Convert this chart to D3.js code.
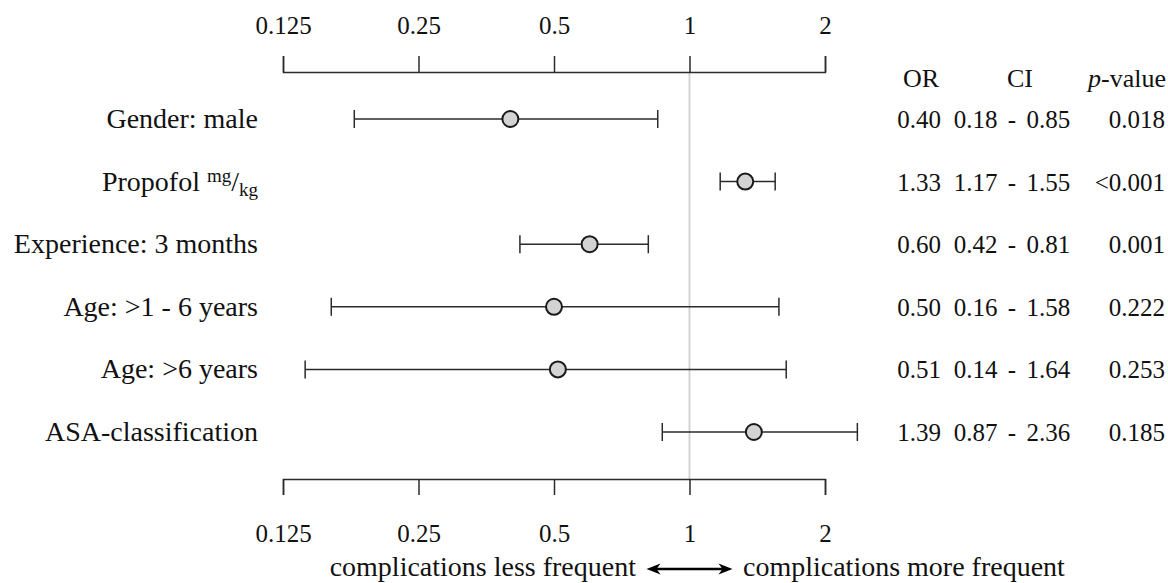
<!DOCTYPE html>
<html>
<head>
<meta charset="utf-8">
<script src="https://cdn.jsdelivr.net/npm/d3@7"></script>
<style>
  html, body { margin: 0; padding: 0; background: #fff; }
  svg { display: block; font-family: "Liberation Serif", "Times New Roman", serif; }
</style>
</head>
<body>
<svg id="chart" width="1168" height="583"></svg>
<script>
// ---- data ----
const labels = ["Gender: male", "Propofol", "Experience: 3 months", "Age: >1 - 6 years", "Age: >6 years", "ASA-classification"];
const labelUnits = ["", "mg/kg", "", "", "", ""];
const oddsRatio = [0.40, 1.33, 0.60, 0.50, 0.51, 1.39];
const ciLow = [0.18, 1.17, 0.42, 0.16, 0.14, 0.87];
const ciHigh = [0.85, 1.55, 0.81, 1.58, 1.64, 2.36];
const pValues = ["0.018", "<0.001", "0.001", "0.222", "0.253", "0.185"];
const tickValues = [0.125, 0.25, 0.5, 1, 2];
const headers = ["OR", "CI", "p-value"];
const leftNote = "complications less frequent";
const rightNote = "complications more frequent";

// ---- layout ----
const svg = d3.select("#chart");
const x = d3.scaleLog().base(2).domain([0.125, 2]).range([283, 825]);
const y = d3.scalePoint().domain(d3.range(labels.length)).range([119, 432]);
const axisTopY = 72, axisBottomY = 479;
const ink = "#2b2b2b";

// reference line at 1
svg.append("line")
  .attr("x1", x(1)).attr("x2", x(1))
  .attr("y1", axisTopY).attr("y2", axisBottomY)
  .attr("stroke", "#d4d4d4").attr("stroke-width", 2);

// axes
function styleAxis(g) {
  g.selectAll("path, line").attr("stroke", ink).attr("stroke-width", 1.5);
  g.selectAll("text").attr("fill", "#111").attr("font-size", 25)
    .attr("font-family", "Liberation Serif, serif");
}
const fmt = d => String(d);
svg.append("g").attr("transform", `translate(0,${axisTopY})`)
  .call(d3.axisTop(x).tickValues(tickValues).tickFormat(fmt).tickSize(16).tickPadding(22))
  .call(styleAxis);
svg.append("g").attr("transform", `translate(0,${axisBottomY})`)
  .call(d3.axisBottom(x).tickValues(tickValues).tickFormat(fmt).tickSize(16).tickPadding(29))
  .call(styleAxis);
svg.selectAll(".domain").attr("stroke", ink);

// rows
const rows = svg.append("g").selectAll("g").data(labels.map((l, i) => i)).join("g");
const capH = 9;
rows.append("line")
  .attr("x1", i => x(ciLow[i])).attr("x2", i => x(ciHigh[i]))
  .attr("y1", i => y(i)).attr("y2", i => y(i))
  .attr("stroke", ink).attr("stroke-width", 1.5);
rows.append("line")
  .attr("x1", i => x(ciLow[i])).attr("x2", i => x(ciLow[i]))
  .attr("y1", i => y(i) - capH).attr("y2", i => y(i) + capH)
  .attr("stroke", ink).attr("stroke-width", 1.5);
rows.append("line")
  .attr("x1", i => x(ciHigh[i])).attr("x2", i => x(ciHigh[i]))
  .attr("y1", i => y(i) - capH).attr("y2", i => y(i) + capH)
  .attr("stroke", ink).attr("stroke-width", 1.5);
rows.append("circle")
  .attr("cx", i => x(oddsRatio[i])).attr("cy", i => y(i)).attr("r", 8)
  .attr("fill", "#d3d3d3").attr("stroke", "#1a1a1a").attr("stroke-width", 2);

// labels
const lab = rows.append("text")
  .attr("x", 258).attr("y", i => y(i) + 9)
  .attr("text-anchor", "end").attr("font-size", 28).attr("fill", "#111");
lab.append("tspan").text(i => labels[i]);
lab.each(function(i) {
  if (!labelUnits[i]) return;
  const [num, den] = labelUnits[i].split("/");
  const t = d3.select(this);
  t.append("tspan").attr("font-size", 19).attr("dx", 7).attr("dy", -9).text(num);
  t.append("tspan").attr("font-size", 28).attr("dy", 9).text("/");
  t.append("tspan").attr("font-size", 19).attr("dy", 5).text(den);
});

// table
rows.append("text").attr("x", 919).attr("y", i => y(i) + 9)
  .attr("text-anchor", "middle").attr("font-size", 25).attr("fill", "#111")
  .text(i => oddsRatio[i].toFixed(2));
rows.append("text").attr("x", 1012).attr("y", i => y(i) + 9)
  .attr("text-anchor", "middle").attr("font-size", 25).attr("fill", "#111")
  .attr("word-spacing", 4)
  .text(i => `${ciLow[i].toFixed(2)} - ${ciHigh[i].toFixed(2)}`);
rows.append("text").attr("x", 1165).attr("y", i => y(i) + 9)
  .attr("text-anchor", "end").attr("font-size", 25).attr("fill", "#111")
  .text(i => pValues[i]);

// headers
const hy = 87;
svg.append("text").attr("x", 921).attr("y", hy).attr("text-anchor", "middle")
  .attr("font-size", 26).attr("fill", "#111").text(headers[0]);
svg.append("text").attr("x", 1020).attr("y", hy).attr("text-anchor", "middle")
  .attr("font-size", 26).attr("fill", "#111").text(headers[1]);
const ph = svg.append("text").attr("x", 1166).attr("y", hy).attr("text-anchor", "end")
  .attr("font-size", 26).attr("fill", "#111");
ph.append("tspan").attr("font-style", "italic").text(headers[2].split("-")[0]);
ph.append("tspan").text("-" + headers[2].split("-")[1]);

// bottom note with double arrow
const ny = 576;
svg.append("text").attr("x", 636).attr("y", ny).attr("text-anchor", "end")
  .attr("font-size", 28).attr("fill", "#111").text(leftNote);
svg.append("text").attr("x", 743).attr("y", ny).attr("text-anchor", "start")
  .attr("font-size", 28).attr("fill", "#111").text(rightNote);
const ay = 569, ax0 = x(1) - 43, ax1 = x(1) + 43;
svg.append("line").attr("x1", ax0 + 8).attr("x2", ax1 - 8).attr("y1", ay).attr("y2", ay)
  .attr("stroke", "#000").attr("stroke-width", 2.5);
svg.append("path").attr("d", `M${ax0},${ay} L${ax0 + 14},${ay - 5.5} L${ax0 + 10},${ay} L${ax0 + 14},${ay + 5.5} Z`).attr("fill", "#000");
svg.append("path").attr("d", `M${ax1},${ay} L${ax1 - 14},${ay - 5.5} L${ax1 - 10},${ay} L${ax1 - 14},${ay + 5.5} Z`).attr("fill", "#000");
</script>
</body>
</html>
